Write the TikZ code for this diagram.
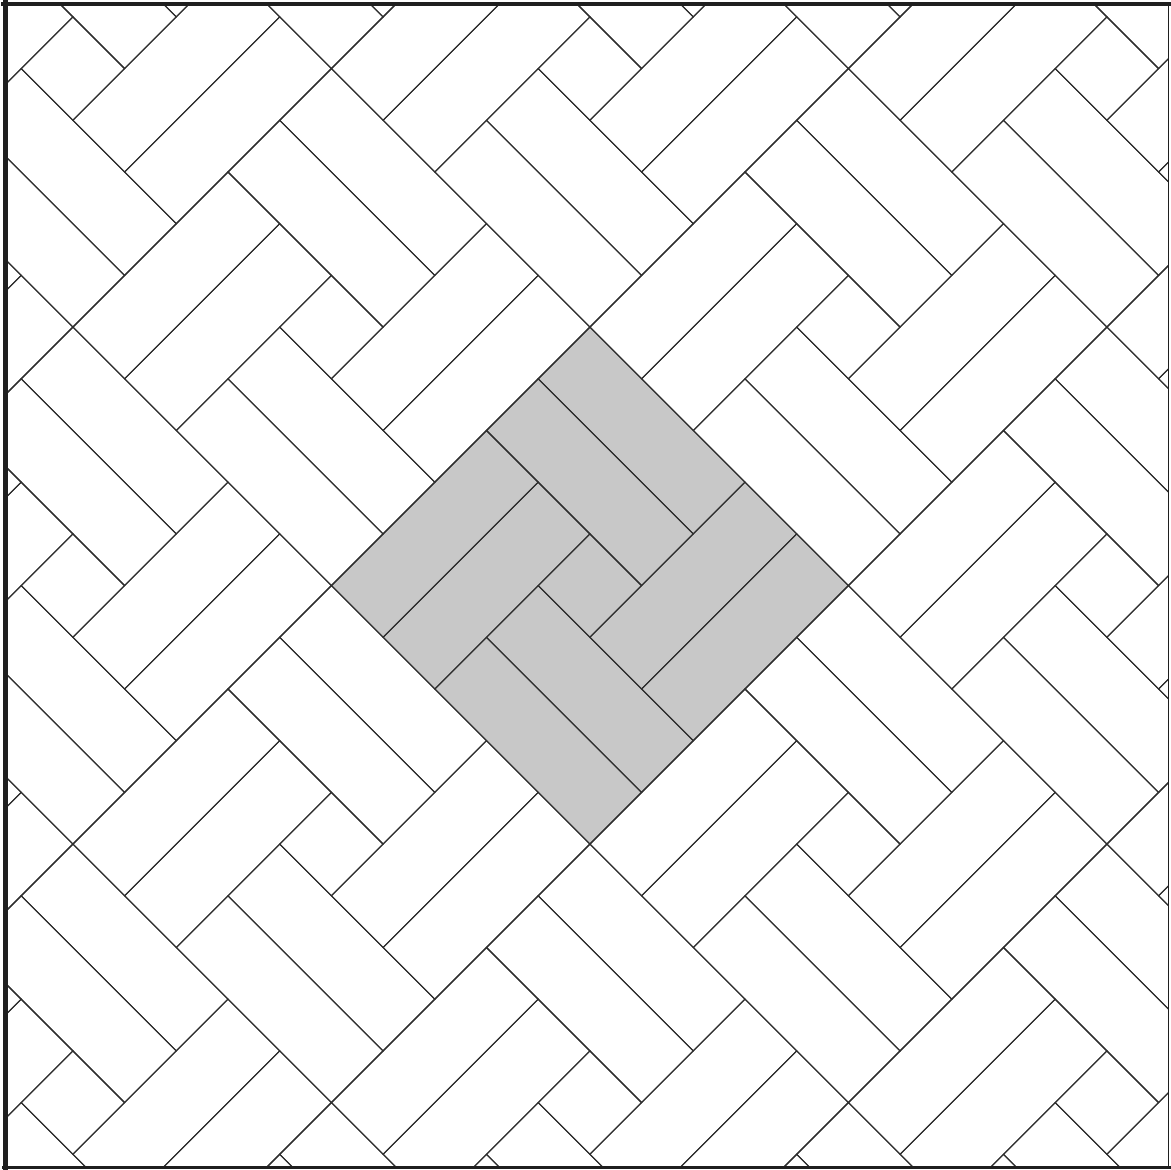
\documentclass[tikz,border=0pt]{standalone}
\definecolor{tilegrey}{HTML}{C8C8C8}
\definecolor{groutgrey}{HTML}{2E2E2E}
\newcommand{\slab}[4]{%
  \draw[grout] (#1,#2) -- (#3,#2) -- (#3,#4) -- (#1,#4) -- cycle;}
\newcommand{\pinwheel}[2]{%
  \begin{scope}[shift={(#1,#2)}]
    \slab{0}{3}{3}{4} \slab{0}{4}{3}{5}
    \slab{3}{2}{4}{5} \slab{4}{2}{5}{5}
    \slab{2}{0}{5}{1} \slab{2}{1}{5}{2}
    \slab{0}{0}{1}{3} \slab{1}{0}{2}{3}
    \slab{2}{2}{3}{3}
  \end{scope}}

\begin{document}
\begin{tikzpicture}[x=1pt,y=-1pt,
    grout/.style={draw=groutgrey,line width=1.1pt,line join=miter},
    infill/.style={fill=tilegrey},
    rim/.style={draw=black!88,line cap=rect}]
  \path[use as bounding box] (0,0) rectangle (1171,1170);

  % tiling, clipped to the frame
  \begin{scope}
    \clip (5,4) rectangle (1168.5,1166.5);
    \begin{scope}[shift={(331.4,585.6)},x={(51.7pt,-51.7pt)},y={(51.7pt,51.7pt)}]
      \fill[infill] (0,0) -- (5,0) -- (5,5) -- (0,5) -- cycle;
      \foreach \i in {-2,...,2}{
        \foreach \j in {-2,...,2}{\pinwheel{5*\i}{5*\j}}}
    \end{scope}
  \end{scope}

  % frame
  \draw[rim,line width=5pt] (5.5,2) -- (5.5,1168);
  \draw[rim,line width=4pt] (3,3.5) -- (1169,3.5);
  \draw[rim,line width=3pt] (3,1167) -- (1169,1167);
  \draw[rim,line width=1.3pt] (1168.5,3) -- (1168.5,1167);
\end{tikzpicture}
\end{document}
